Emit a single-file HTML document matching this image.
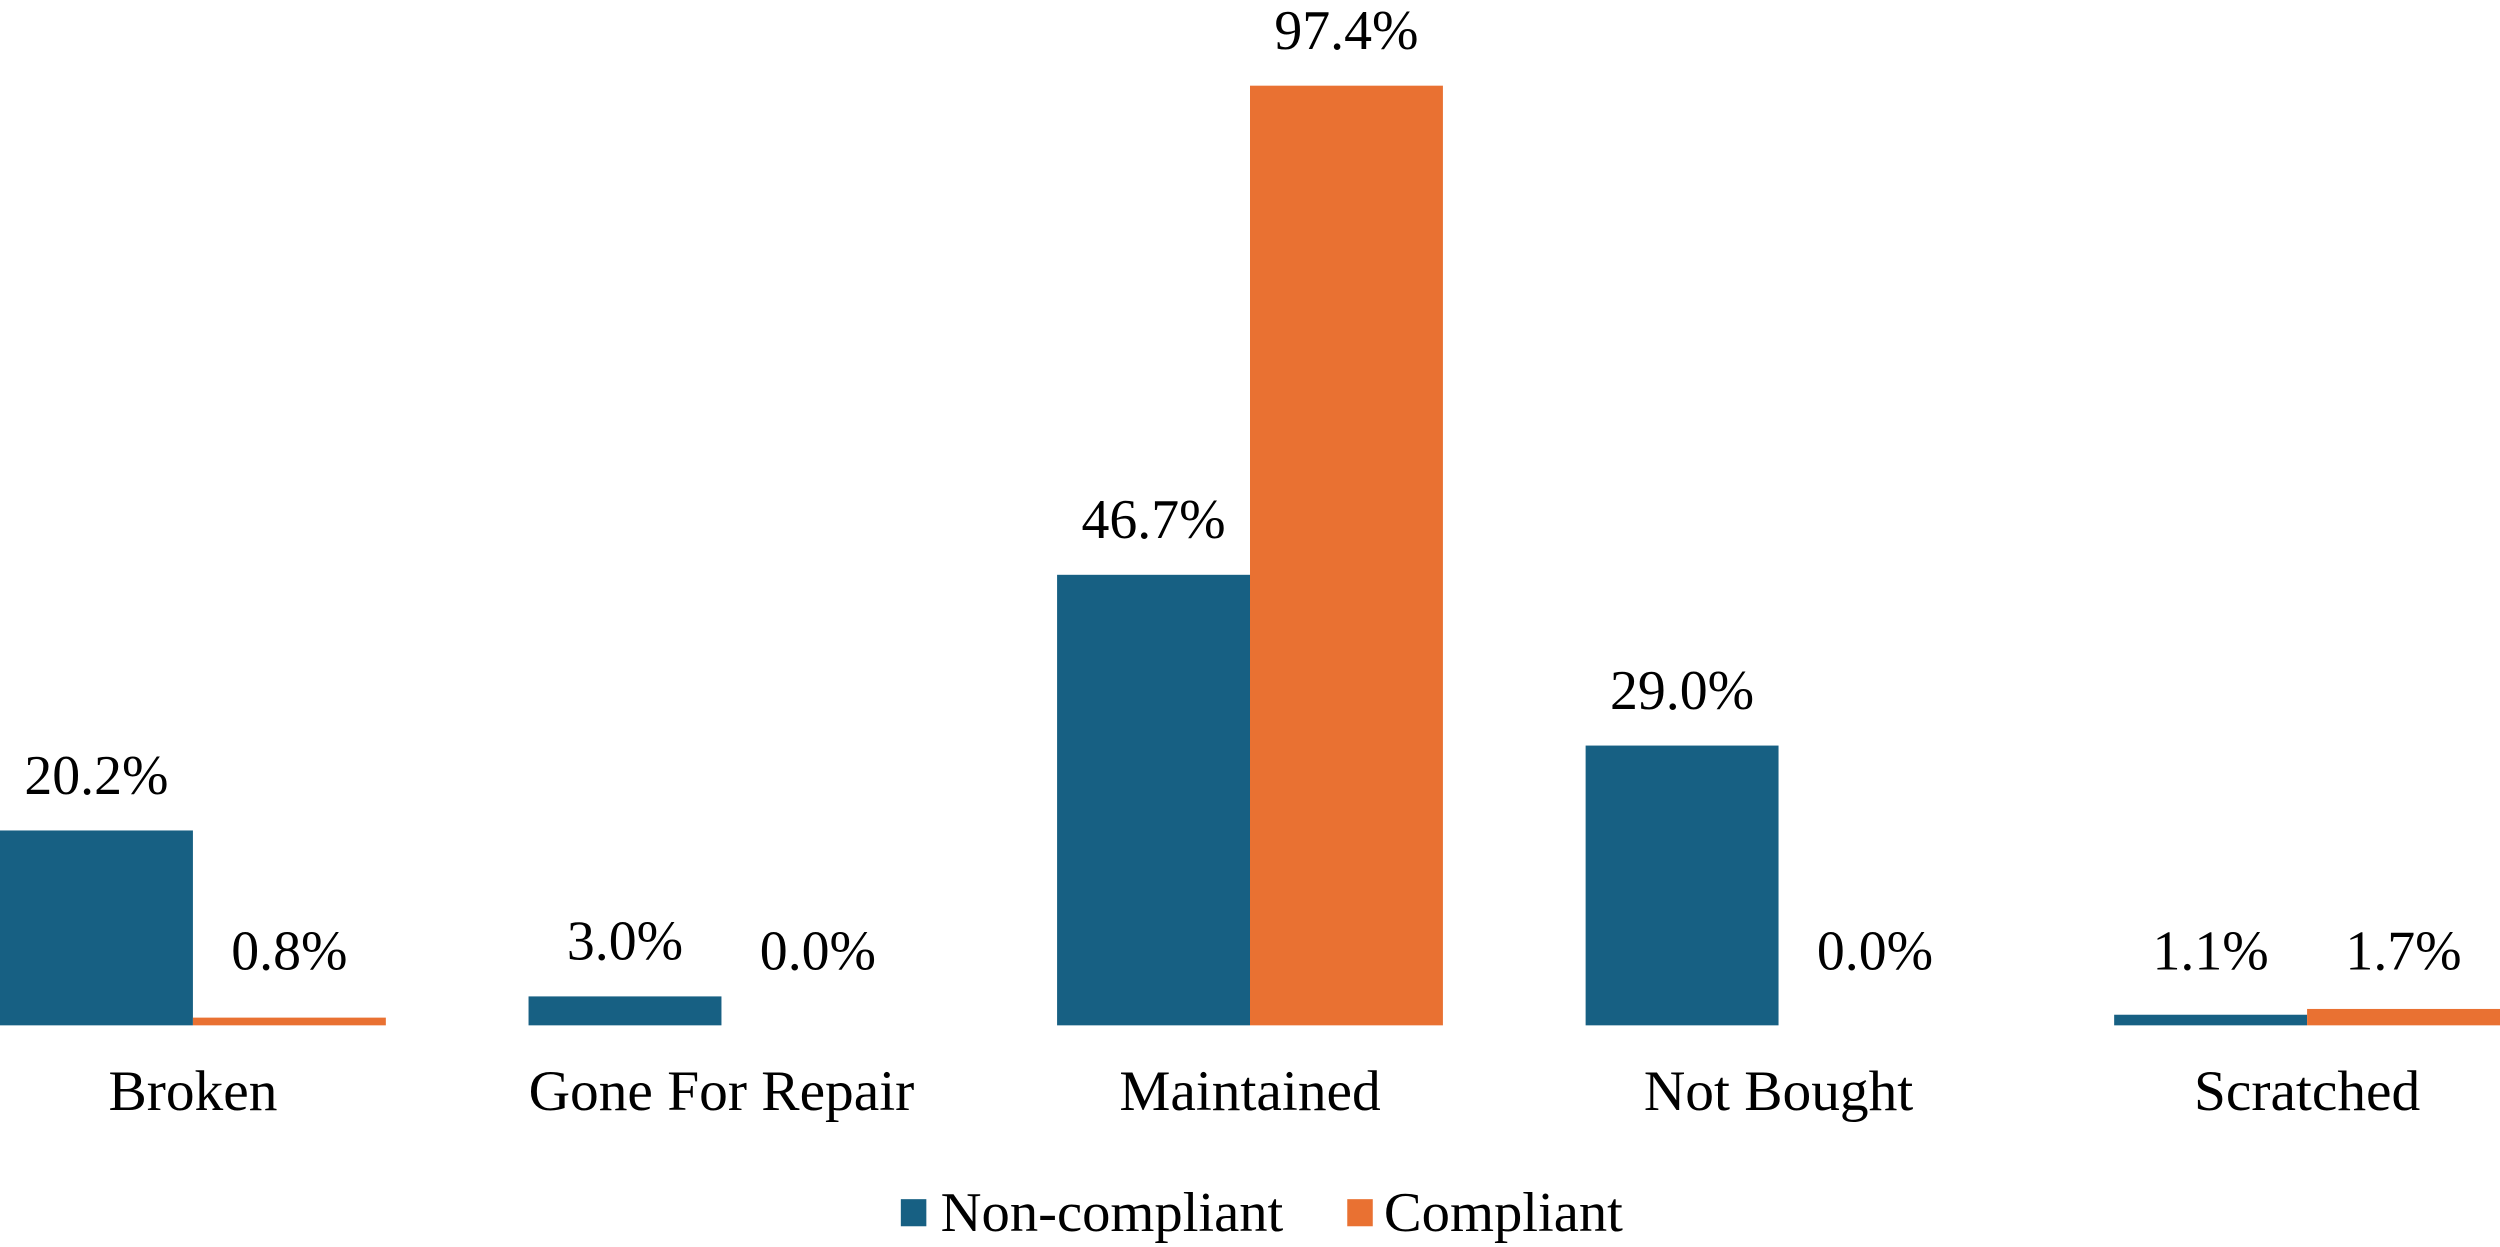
<!DOCTYPE html>
<html><head><meta charset="utf-8"><style>html,body{margin:0;padding:0;background:#fff}svg{display:block}</style></head>
<body>
<svg id="chart" width="2500" height="1247" viewBox="0 0 1568 782" preserveAspectRatio="none" xmlns="http://www.w3.org/2000/svg" font-family="'Liberation Serif', serif">
<g id="bars"></g>
<g id="labels"></g>
<g>
<rect x="565" y="752" width="16" height="17" fill="#176083"/>
<text x="590" y="772" font-size="35.5" fill="#000">Non-compliant</text>
<rect x="845" y="752" width="16" height="17" fill="#e97132"/>
<text x="868" y="772" font-size="35.5" fill="#000">Compliant</text>
</g>
</svg>
<script>
const categories = ["Broken","Gone For Repair","Maintained","Not Bought","Scratched"];
const nonCompliant = [20.2, 3.0, 46.7, 29.0, 1.1];
const compliant = [0.8, 0.0, 97.4, 0.0, 1.7];
const seriesNames = ["Non-compliant","Compliant"];

const NS = "http://www.w3.org/2000/svg";
const baseY = 643, pxPerPct = 6.05, groupW = 331.5, barW = 121, firstCenter = 121;
const colors = ["#176083","#e97132"];
const y = v => baseY - v * pxPerPct;
const gc = i => firstCenter + i * groupW;
const barsG = document.getElementById('bars');
const labelsG = document.getElementById('labels');
[nonCompliant, compliant].forEach((series, s) => {
  series.forEach((v, i) => {
    const x = gc(i) - barW + s * barW;
    const r = document.createElementNS(NS, 'rect');
    r.setAttribute('x', x); r.setAttribute('y', y(v));
    r.setAttribute('width', barW); r.setAttribute('height', baseY - y(v));
    r.setAttribute('fill', colors[s]);
    
    
    barsG.appendChild(r);
    const t = document.createElementNS(NS, 'text');
    t.setAttribute('x', x + barW / 2);
    t.setAttribute('y', Math.min(y(v) - 23, 608));
    t.setAttribute('text-anchor', 'middle');
    t.setAttribute('font-size', '35');
    t.textContent = v.toFixed(1) + '%';
    
    
    labelsG.appendChild(t);
  });
});
categories.forEach((c, i) => {
  const t = document.createElementNS(NS, 'text');
  t.setAttribute('x', gc(i)); t.setAttribute('y', 696);
  t.setAttribute('text-anchor', 'middle'); t.setAttribute('font-size', '36');
  t.textContent = c;
  
  
  labelsG.appendChild(t);
});
</script>
</body></html>
